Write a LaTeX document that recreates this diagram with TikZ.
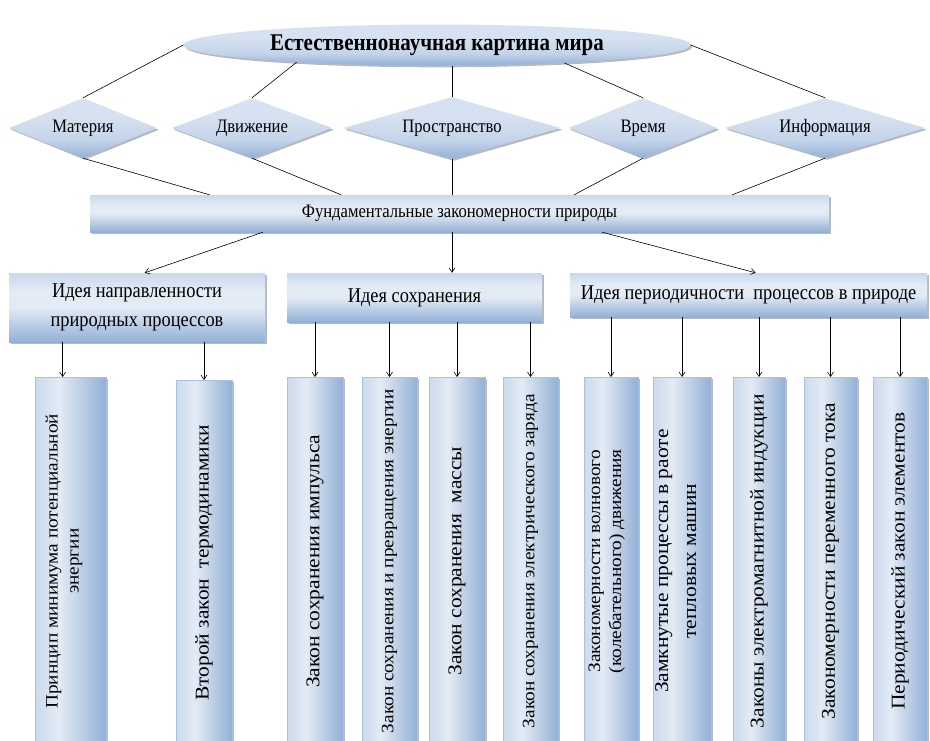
\documentclass[tikz,border=0pt]{standalone}
\usepackage{fontspec}
\setmainfont{Liberation Serif}
\newfontfamily\narrowfont[FakeStretch=0.875]{Liberation Serif}
\newfontfamily\widefont[FakeStretch=1.1]{Liberation Serif}
\usetikzlibrary{shapes.geometric,shadows,arrows.meta,calc}
\definecolor{sTop}{RGB}{200,216,236}
\definecolor{sMid}{RGB}{227,235,245}
\definecolor{sBot}{RGB}{146,176,214}
\definecolor{dTop}{RGB}{214,226,241}
\definecolor{dMid}{RGB}{196,212,233}
\definecolor{cL}{RGB}{203,218,237}
\definecolor{edgeC}{RGB}{170,194,225}
\pgfdeclareverticalshading{vshade}{100bp}{color(0bp)=(sBot); color(25bp)=(sBot); color(50bp)=(sMid); color(62bp)=(sMid); color(75bp)=(sTop); color(100bp)=(sTop)}
\pgfdeclareverticalshading{dshade}{100bp}{color(0bp)=(sBot); color(25bp)=(sBot); color(40bp)=(dMid); color(60bp)=(dTop); color(75bp)=(dTop); color(100bp)=(dTop)}
\pgfdeclarehorizontalshading{hshade}{100bp}{color(0bp)=(cL); color(25bp)=(cL); color(42bp)=(sMid); color(75bp)=(sBot); color(100bp)=(sBot)}
\newcommand\colfontA{\widefont\fontsize{19.5}{25}\selectfont}
\newcommand\colfontB{\widefont\fontsize{17.5}{21}\selectfont}
\newcommand\lvfont{\narrowfont\fontsize{21}{29}\selectfont}
\tikzset{
  line/.style={draw=black, line width=0.6pt},
  arr/.style={line, -{Straight Barb[length=4.5pt,width=6pt]}},
  shad/.style={drop shadow={shadow xshift=1.8pt, shadow yshift=-1.8pt, fill=black!50, opacity=0.55}},
  ellbox/.style={ellipse, shade, shading=dshade, shad, inner sep=0pt,
    font=\narrowfont\bfseries\fontsize{24}{28}\selectfont},
  dia/.style={diamond, shape aspect=2.5, inner sep=0pt, shade, shading=dshade, shad,
    font=\narrowfont\fontsize{19}{22}\selectfont},
  hbox/.style={rectangle, shade, shading=vshade, shad, inner sep=0pt},
  colbox/.style={rectangle, shade, shading=hshade, shad, draw=edgeC, line width=0.4pt,
    inner sep=0pt, anchor=north, minimum height=368pt}
}
\begin{document}
\begin{tikzpicture}[x=1pt,y=-1pt]
\fill[white] (0,0) rectangle (930,740);
\useasboundingbox (0,0) rectangle (930,740);

% top ellipse
\node[ellbox, minimum width=507pt, minimum height=41pt] (ell) at (437,45) {Естественнонаучная картина мира};

% diamonds
\node[dia, minimum width=148pt, minimum height=60pt] (d1) at (83,128) {Материя};
\node[dia, minimum width=160pt, minimum height=60pt] (d2) at (252,128) {Движение};
\node[dia, minimum width=217pt, minimum height=62pt] (d3) at (452,128) {Пространство};
\node[dia, minimum width=149pt, minimum height=60pt] (d4) at (643,128) {Время};
\node[dia, minimum width=200pt, minimum height=60pt] (d5) at (825,128) {Информация};

% bar
\node[hbox, minimum width=739pt, minimum height=37pt, font=\narrowfont\fontsize{19}{22}\selectfont] (bar) at (459.5,213.5) {Фундаментальные закономерности природы};

% level 3
\node[hbox, minimum width=256pt, minimum height=69pt, align=center, font=\lvfont] (i1) at (137,307.5) {Идея направленности\\природных процессов};
\node[hbox, minimum width=255pt, minimum height=49pt, font=\lvfont] (i2) at (414.5,297.5) {Идея сохранения};
\node[hbox, minimum width=357pt, minimum height=44pt, font=\lvfont] (i3) at (748.5,295) {Идея периодичности\ \ процессов в природе};

% columns
\node[colbox, minimum width=71pt] (c1) at (70.5,377) {\makebox[0pt]{\rotatebox{90}{\colfontB\begin{tabular}{@{}c@{}}Принцип минимума потенциальной\\энергии\end{tabular}}\kern13pt}};
\node[colbox, minimum width=56pt, minimum height=365pt] (c2) at (204,380) {\rotatebox{90}{\colfontA Второй закон\ \ термодинамики}};
\node[colbox, minimum width=56pt] (c3) at (315,377) {\rotatebox{90}{\colfontA Закон сохранения импульса}};
\node[colbox, minimum width=55pt] (c4) at (389.5,377) {\rotatebox{90}{\colfontB Закон сохранения и превращения энергии}};
\node[colbox, minimum width=56pt] (c5) at (457,377) {\rotatebox{90}{\colfontA Закон сохранения\ \ массы}};
\node[colbox, minimum width=55pt] (c6) at (530.5,377) {\rotatebox{90}{\colfontB Закон сохранения электрического заряда}};
\node[colbox, minimum width=54pt] (c7) at (611,377) {\makebox[0pt]{\rotatebox{90}{\colfontB\begin{tabular}{@{}c@{}}Закономерности волнового\\(колебательного) движения\end{tabular}}\kern9pt}};
\node[colbox, minimum width=58pt] (c8) at (682,377) {\makebox[0pt]{\rotatebox{90}{\colfontA\begin{tabular}{@{}c@{}}Замкнутые процессы в раоте\\[3pt]тепловых машин\end{tabular}}\kern10pt}};
\node[colbox, minimum width=52pt] (c9) at (759,377) {\rotatebox{90}{\colfontA Законы электромагнитной индукции}};
\node[colbox, minimum width=53pt] (c10) at (830.5,377) {\rotatebox{90}{\colfontA Закономерности переменного тока}};
\node[colbox, minimum width=54pt] (c11) at (900,377) {\rotatebox{90}{\colfontA Периодический закон элементов}};

% ellipse to diamonds
\draw[line] (ell.west) -- (d1.north);
\draw[line] (ell.187) -- (d2.north);
\draw[line] (d3.north) -- (d3.north |- ell.south);
\draw[line] (ell.352) -- (d4.north);
\draw[line] (ell.east) -- (d5.north);

% diamonds to bar
\draw[line] (d1.south) -- ($(bar.north west)!0.162!(bar.north east)$);
\draw[line] (d2.south) -- ($(bar.north west)!0.340!(bar.north east)$);
\draw[line] (d3.south) -- (d3.south |- bar.north);
\draw[line] (d4.south) -- ($(bar.north west)!0.655!(bar.north east)$);
\draw[line] (d5.south) -- ($(bar.north west)!0.869!(bar.north east)$);

% bar to level 3
\draw[arr] ($(bar.south west)!0.234!(bar.south east)$) -- ($(i1.north west)!0.53!(i1.north east)$);
\draw[arr] (d3.south |- bar.south) -- (d3.south |- i2.north);
\draw[arr] ($(bar.south west)!0.693!(bar.south east)$) -- ($(i3.north west)!0.52!(i3.north east)$);

% level 3 to columns
\coordinate (t1) at ($(c1.north west)!0.39!(c1.north east)$);
\draw[arr] (t1 |- i1.south) -- (t1);
\draw[arr] (c2.north |- i1.south) -- (c2.north);
\foreach \c in {c3,c4,c5,c6}{\draw[arr] (\c.north |- i2.south) -- (\c.north);}
\foreach \c in {c7,c8,c9,c10,c11}{\draw[arr] (\c.north |- i3.south) -- (\c.north);}
\end{tikzpicture}
\end{document}
